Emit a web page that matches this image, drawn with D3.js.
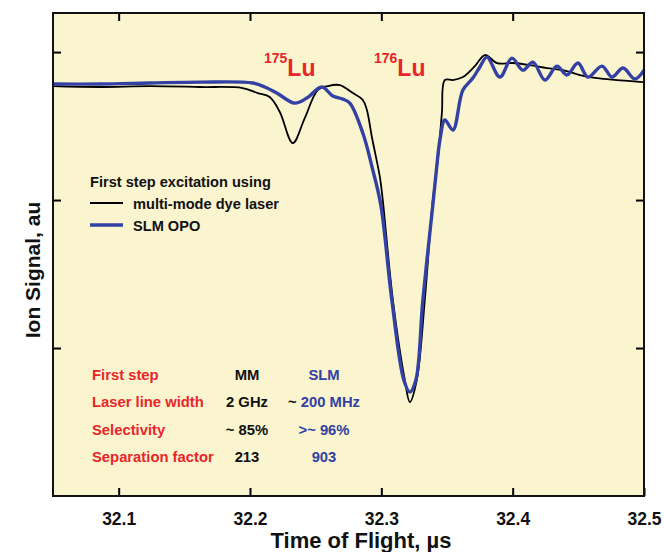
<!DOCTYPE html>
<html><head><meta charset="utf-8">
<script src="https://cdn.jsdelivr.net/npm/d3@7"></script>
<style>body{margin:0;background:#fff}svg{display:block;font-family:"Liberation Sans",Arial,sans-serif}</style>
</head><body>
<script>
// Time of flight (µs) and ion signal (au)
const mmTime = [32.05,32.0855,32.1236,32.1617,32.1945,32.2059,32.215,32.2227,32.2326,32.2417,32.2516,32.2592,32.2684,32.2783,32.2859,32.289,32.2928,32.2989,32.3011,32.3088,32.3179,32.3217,32.327,32.3331,32.3392,32.343,32.3461,32.3484,32.3545,32.3621,32.3712,32.3789,32.388,32.4002,32.4131,32.4261,32.4383,32.4512,32.4642,32.4794,32.4992];
const mmSignal = [2.770,2.764,2.770,2.764,2.757,2.723,2.696,2.595,2.385,2.554,2.743,2.770,2.777,2.723,2.676,2.608,2.426,2.155,2.000,1.324,0.784,0.635,0.784,1.324,2.000,2.270,2.588,2.811,2.811,2.831,2.905,2.980,2.926,2.926,2.912,2.892,2.878,2.845,2.824,2.811,2.797];
const slmTime = [32.05,32.0855,32.1236,32.1617,32.2021,32.2112,32.2204,32.2341,32.2432,32.2547,32.263,32.2707,32.276,32.2859,32.2935,32.2996,32.308,32.3171,32.3217,32.3263,32.3316,32.3392,32.3423,32.3446,32.3484,32.3545,32.3621,32.3697,32.375,32.3804,32.3903,32.3994,32.4078,32.4154,32.4246,32.4337,32.4413,32.4497,32.4573,32.468,32.4756,32.484,32.4931,32.5];
const slmSignal = [2.784,2.784,2.791,2.797,2.791,2.764,2.723,2.655,2.689,2.764,2.703,2.682,2.655,2.453,2.203,1.966,1.324,0.784,0.703,0.784,1.324,1.966,2.236,2.405,2.541,2.473,2.743,2.824,2.899,2.966,2.831,2.959,2.878,2.932,2.811,2.905,2.845,2.926,2.831,2.905,2.831,2.892,2.818,2.878];
const xTicks = [32.1,32.2,32.3,32.4,32.5];
const yTicks = [1,2,3];
const seriesNames = ["multi-mode dye laser","SLM OPO"];
const tableRows = ["First step","Laser line width","Selectivity","Separation factor"];
const mmCol = ["MM","2 GHz","~ 85%","213"];
const slmCol = [["","SLM"],["~ ","200 MHz"],["",">~ 96%"],["","903"]];

const W=664,H=552;
const m={l:53,r:20,t:13,b:56};
const svg=d3.select("body").append("svg").attr("width",W).attr("height",H);
const x=d3.scaleLinear().domain([32.05,32.5]).range([m.l,W-m.r]);
const y=d3.scaleLinear().domain([0,3.264]).range([H-m.b,m.t]);
const red="#e8262a", blue="#3340a4";

svg.append("rect").attr("x",x.range()[0]).attr("y",y.range()[1])
  .attr("width",x.range()[1]-x.range()[0]).attr("height",y.range()[0]-y.range()[1])
  .attr("fill","#faf4cf");

const line=d3.line().x(d=>x(d[0])).y(d=>y(d[1])).curve(d3.curveCatmullRom.alpha(0.5));
svg.append("path").datum(d3.zip(mmTime,mmSignal)).attr("d",line)
  .attr("fill","none").attr("stroke","#000").attr("stroke-width",1.8);
svg.append("path").datum(d3.zip(slmTime,slmSignal)).attr("d",line)
  .attr("fill","none").attr("stroke",blue).attr("stroke-width",3.4);

function styleAxis(g){g.selectAll(".domain").remove();g.selectAll(".tick line").attr("stroke","#000").attr("stroke-width",2);}
svg.append("g").attr("transform",`translate(0,${y.range()[0]})`)
  .call(d3.axisBottom(x).tickValues(xTicks).tickSize(-8).tickPadding(17).tickFormat(d3.format(".1f")))
  .call(styleAxis)
  .call(g=>g.selectAll("text").attr("font-size",17.5).attr("font-weight","bold").attr("fill","#111").attr("font-family","Liberation Sans, Arial"));
svg.append("g").attr("transform",`translate(0,${y.range()[1]})`)
  .call(d3.axisTop(x).tickValues(xTicks.slice(0,4)).tickSize(-8).tickFormat(""))
  .call(styleAxis);
svg.append("g").attr("transform",`translate(${x.range()[0]},0)`)
  .call(d3.axisLeft(y).tickValues(yTicks).tickSize(-8).tickFormat(""))
  .call(styleAxis);
svg.append("g").attr("transform",`translate(${x.range()[1]},0)`)
  .call(d3.axisRight(y).tickValues(yTicks).tickSize(-8).tickFormat(""))
  .call(styleAxis);

svg.append("rect").attr("x",x.range()[0]).attr("y",y.range()[1])
  .attr("width",x.range()[1]-x.range()[0]).attr("height",y.range()[0]-y.range()[1])
  .attr("fill","none").attr("stroke","#111").attr("stroke-width",2);

// axis titles
svg.append("text").attr("x",361).attr("y",548).attr("text-anchor","middle")
  .attr("font-size",22).attr("font-weight","bold").attr("fill","#111").text("Time of Flight, µs");
svg.append("text").attr("transform","translate(40,270) rotate(-90)").attr("text-anchor","middle")
  .attr("font-size",21).attr("font-weight","bold").attr("fill","#111").text("Ion Signal, au");

// isotope labels
function iso(xp,mass){
  const t=svg.append("text").attr("x",xp).attr("y",76).attr("fill",red).attr("font-weight","bold");
  t.append("tspan").attr("font-size",14).attr("dy",-13).text(mass);
  t.append("tspan").attr("font-size",23).attr("dy",13).text("Lu");
}
iso(264,"175"); iso(374,"176");

// legend
const lg=svg.append("g").attr("font-size",14.6).attr("font-weight","bold").attr("fill","#111");
lg.append("text").attr("x",90).attr("y",187).text("First step excitation using");
lg.append("line").attr("x1",90).attr("x2",123).attr("y1",203).attr("y2",203).attr("stroke","#000").attr("stroke-width",1.8);
lg.append("text").attr("x",133).attr("y",209).text(seriesNames[0]);
lg.append("line").attr("x1",90).attr("x2",123).attr("y1",225).attr("y2",225).attr("stroke",blue).attr("stroke-width",3.4);
lg.append("text").attr("x",133).attr("y",231).text(seriesNames[1]);

// table
const tb=svg.append("g").attr("font-size",14.8).attr("font-weight","bold");
tableRows.forEach((r,i)=>{
  const yy=380+i*27.3;
  tb.append("text").attr("x",92).attr("y",yy).attr("fill",red).text(r);
  tb.append("text").attr("x",247).attr("y",yy).attr("text-anchor","middle").attr("fill","#111").text(mmCol[i]);
  const t=tb.append("text").attr("x",324).attr("y",yy).attr("text-anchor","middle");
  t.append("tspan").attr("fill","#111").text(slmCol[i][0]);
  t.append("tspan").attr("fill",blue).text(slmCol[i][1]);
});
</script>
</body></html>
